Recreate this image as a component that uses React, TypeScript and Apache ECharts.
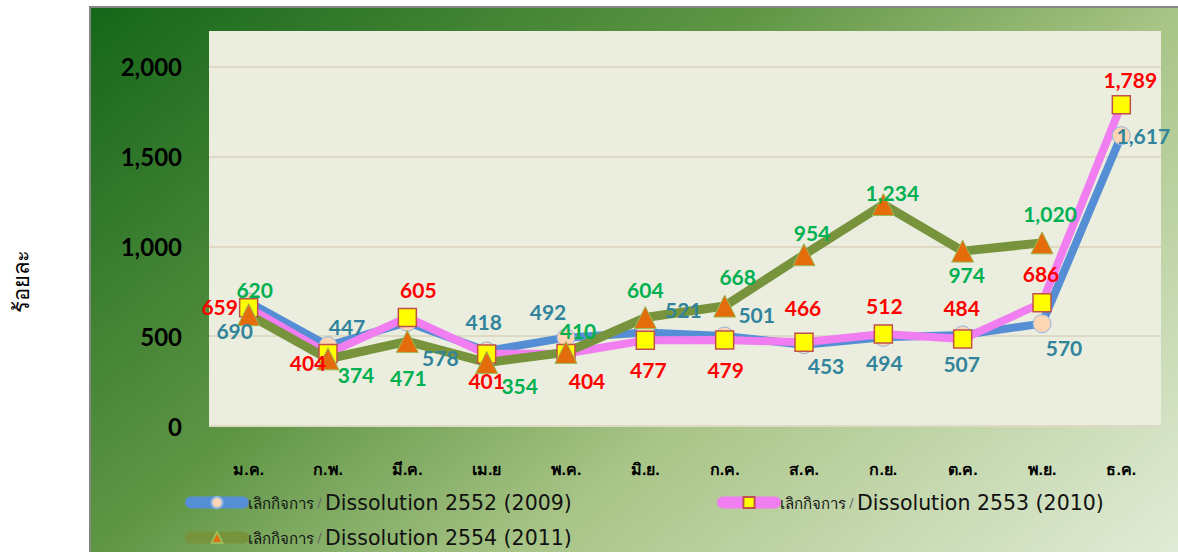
import React, { useEffect, useRef } from "react";
import * as echarts from "echarts";

const MONTHS = ["ม.ค.", "ก.พ.", "มี.ค.", "เม.ย", "พ.ค.", "มิ.ย.", "ก.ค.", "ส.ค.", "ก.ย.", "ต.ค.", "พ.ย.", "ธ.ค."];
const Y_TICKS_MAX = 2200;
const Y_INTERVAL = 500;

const NAME_2009 = "เลิกกิจการ / Dissolution 2552 (2009)";
const NAME_2010 = "เลิกกิจการ / Dissolution 2553 (2010)";
const NAME_2011 = "เลิกกิจการ / Dissolution 2554 (2011)";

const VALUES_2009 = [690, 447, 578, 418, 492, 521, 501, 453, 494, 507, 570, 1617];
const VALUES_2010 = [659, 404, 605, 401, 404, 477, 479, 466, 512, 484, 686, 1789];
const VALUES_2011 = [620, 374, 471, 354, 410, 604, 668, 954, 1234, 974, 1020];

// label placement (style only): offset of each data label from its point
const OFFSETS_2009 = [[-14, 28], [19, -19], [33, 35], [-3, -29], [-18, -26], [38, -23], [32, -22], [22, 21], [1, 25], [-1, 29], [22, 24], [22, 0]];
const OFFSETS_2010 = [[-29, -1], [-20, 9], [11, -28], [0, 26], [21, 27], [3, 29], [1, 30], [-1, -35], [1, -29], [-1, -32], [-1, -29], [9, -25]];
const OFFSETS_2011 = [[6, -25], [28, 16], [1, 36], [33, 23], [12, -22], [0, -28], [13, -30], [8, -22], [9, -12], [4, 23], [8, -29]];

const fmt = (v: number) => Number(v).toLocaleString("en-US");

function buildData(values: number[], offsets: number[][]) {
  return values.map((v, i) => ({ value: v, label: { offset: offsets[i] } }));
}

export default function App() {
  const ref = useRef<HTMLDivElement>(null);
  useEffect(() => {
    document.body.style.margin = "0";
    const chart = echarts.init(ref.current!, null, { renderer: "svg" });
    const labelBase = {
      show: true,
      position: "inside",
      fontFamily: "Lato",
      fontWeight: "bold",
      fontSize: 21,
      formatter: (p: any) => fmt(p.value),
    };
    const legendText = {
      formatter: (name: string) => {
        const parts = name.split(" / ");
        return `{th|${parts[0]}} {sl|/} {en|${parts[1]}}`;
      },
      textStyle: {
        rich: {
          th: { fontSize: 15, color: "#111", fontFamily: "Noto Sans, DejaVu Sans" },
          sl: { fontSize: 13, color: "#666", fontFamily: "DejaVu Sans" },
          en: { fontSize: 20.5, color: "#111", fontFamily: "DejaVu Sans" },
        },
      },
      itemWidth: 52,
      itemHeight: 14,
      lineStyle: { width: 12, cap: "round" },
    };
    chart.setOption({
      animation: false,
      graphic: [
        {
          type: "rect",
          z: -10,
          shape: { x: 90, y: 7, width: 1092, height: 550 },
          style: {
            fill: new echarts.graphic.LinearGradient(0, 0, 1.17, 0.72, [
              { offset: 0, color: "#15661a" },
              { offset: 0.38, color: "#5f9645" },
              { offset: 0.62, color: "#a8c486" },
              { offset: 1, color: "#e2ecd8" },
            ]),
            stroke: "#858585",
            lineWidth: 2,
          },
        },
        {
          type: "text",
          x: 21,
          y: 281,
          rotation: Math.PI / 2,
          style: {
            text: "ร้อยละ",
            fontSize: 22,
            fill: "#000",
            align: "center",
            verticalAlign: "middle",
          },
        },
      ],
      grid: {
        left: 209,
        right: 17,
        top: 31,
        bottom: 126,
        show: true,
        backgroundColor: "#ebeedf",
        borderWidth: 0,
      },
      legend: [
        { ...legendText, data: [NAME_2009], left: 180, top: 487 },
        { ...legendText, data: [NAME_2010], left: 712, top: 487 },
        { ...legendText, data: [NAME_2011], left: 180, top: 522 },
      ],
      xAxis: {
        type: "category",
        data: MONTHS,
        boundaryGap: true,
        axisLine: { show: false },
        axisTick: { show: false },
        axisLabel: { margin: 35, fontSize: 16, fontWeight: "bold", color: "#000" },
      },
      yAxis: {
        type: "value",
        min: 0,
        max: Y_TICKS_MAX,
        interval: Y_INTERVAL,
        axisLine: { show: false },
        axisTick: { show: false },
        axisLabel: {
          margin: 27,
          fontSize: 24,
          fontWeight: "bold",
          fontFamily: "Lato",
          color: "#000",
          showMaxLabel: false,
          formatter: (v: number) => (v > 2000 ? "" : fmt(v)),
        },
        splitLine: { show: true, showMaxLine: false, lineStyle: { color: "#ddd9c3", width: 2 } },
      },
      series: [
        {
          name: NAME_2009,
          type: "line",
          data: buildData(VALUES_2009, OFFSETS_2009),
          symbol: "circle",
          symbolSize: 18,
          lineStyle: { color: "#558ed5", width: 8 },
          itemStyle: { color: "#fcd5b5", borderColor: "#8db3e2", borderWidth: 1 },
          label: { ...labelBase, color: "#31849b" },
        },
        {
          name: NAME_2010,
          type: "line",
          data: buildData(VALUES_2010, OFFSETS_2010),
          symbol: "rect",
          symbolSize: 18,
          lineStyle: { color: "#f07ef0", width: 8 },
          itemStyle: { color: "#ffff00", borderColor: "#c0504d", borderWidth: 1.5 },
          label: { ...labelBase, color: "#ff0000" },
        },
        {
          name: NAME_2011,
          type: "line",
          data: buildData(VALUES_2011, OFFSETS_2011),
          symbol: "triangle",
          symbolSize: 22,
          lineStyle: { color: "#77933c", width: 9 },
          itemStyle: { color: "#e46c0a", borderColor: "#9bbb59", borderWidth: 1 },
          label: { ...labelBase, color: "#00b050" },
        },
      ],
    });
    return () => chart.dispose();
  }, []);
  return <div ref={ref} style={{ width: 1178, height: 552 }} />;
}
